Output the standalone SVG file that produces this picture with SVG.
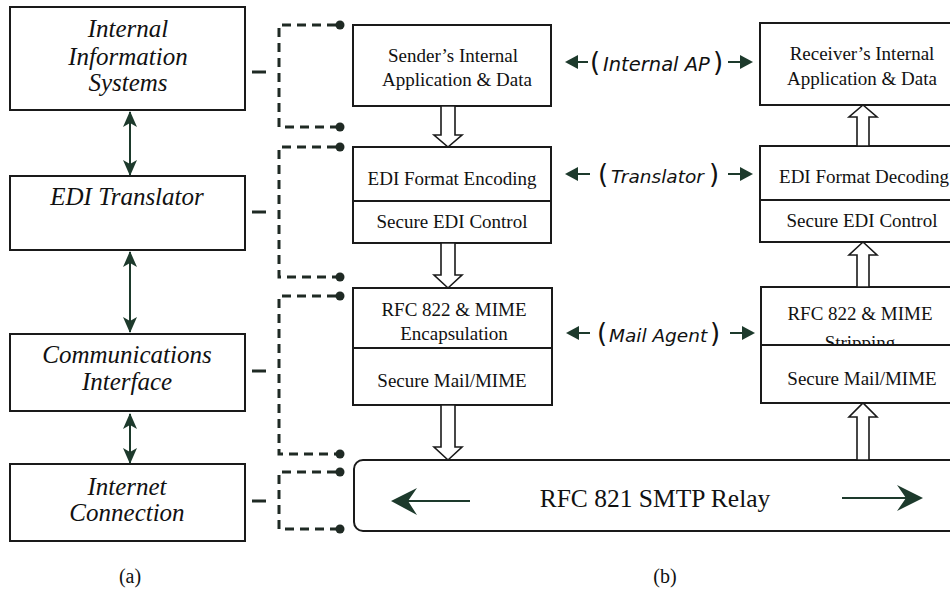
<svg xmlns="http://www.w3.org/2000/svg" width="950" height="591" viewBox="0 0 950 591">
<defs>
<marker id="ah" viewBox="0 0 16 14" refX="15" refY="7" markerWidth="16" markerHeight="14" markerUnits="userSpaceOnUse" orient="auto-start-reverse">
<path d="M0,0 L16,7 L0,14 L4,7 z" fill="#1d3a2c"/>
</marker>
<style>
.box{fill:#fff;stroke:#1a1a1a;stroke-width:2}
.div{stroke:#1a1a1a;stroke-width:2}
.it{font-family:"Liberation Serif","Times New Roman",serif;font-style:italic;font-size:25px;fill:#111;text-anchor:middle}
.rm{font-family:"Liberation Serif","Times New Roman",serif;font-size:19px;fill:#111;text-anchor:middle}
.lab{font-family:"DejaVu Sans",Verdana,sans-serif;font-size:26px;fill:#111}
.lab .i{font-style:italic;font-size:18.5px}
.dash{fill:none;stroke:#1f2a24;stroke-width:3;stroke-dasharray:9 6}
.stub{stroke:#1f2a24;stroke-width:3}
.dot{fill:#1f2a24}
.hol{fill:#fff;stroke:#1a1a1a;stroke-width:1.6}
.dbl{stroke:#1d3a2c;stroke-width:2;marker-start:url(#ah);marker-end:url(#ah)}
.sa{fill:#1d3a2c}
.sl{stroke:#1d3a2c;stroke-width:2}
</style>
</defs>
<rect width="950" height="591" fill="#fff"/>

<!-- (a) column -->
<g id="internal-info-systems">
<rect class="box" x="10" y="7" width="235" height="103"/>
<text class="it" x="128" y="37">Internal</text>
<text class="it" x="128" y="65">Information</text>
<text class="it" x="128" y="91">Systems</text>
</g>
<g id="edi-translator">
<rect class="box" x="10" y="176" width="235" height="74"/>
<text class="it" x="127" y="205">EDI Translator</text>
</g>
<g id="communications-interface">
<rect class="box" x="10" y="334" width="235" height="77"/>
<text class="it" x="127" y="363">Communications</text>
<text class="it" x="127" y="390">Interface</text>
</g>
<g id="internet-connection">
<rect class="box" x="10" y="464" width="235" height="77"/>
<text class="it" x="127" y="495">Internet</text>
<text class="it" x="127" y="521">Connection</text>
</g>
<text class="rm" x="130" y="583" style="font-size:20px">(a)</text>

<!-- (b) sender side -->
<g id="sender-app">
<rect class="box" x="353" y="25" width="198" height="81"/>
<text class="rm" x="453" y="62">Sender’s Internal</text>
<text class="rm" x="457" y="86">Application &amp; Data</text>
</g>
<g id="edi-encoding">
<rect class="box" x="353" y="147" width="198" height="96"/>
<line class="div" x1="353" y1="201" x2="551" y2="201"/>
<text class="rm" x="452" y="185">EDI Format Encoding</text>
<text class="rm" x="452" y="228">Secure EDI Control</text>
</g>
<g id="rfc822-encapsulation">
<rect class="box" x="353" y="288" width="199" height="117"/>
<line class="div" x1="353" y1="348" x2="552" y2="348"/>
<text class="rm" x="454" y="316">RFC 822 &amp; MIME</text>
<text class="rm" x="454" y="340">Encapsulation</text>
<text class="rm" x="452" y="387">Secure Mail/MIME</text>
</g>

<!-- (b) receiver side -->
<g id="receiver-app">
<rect class="box" x="760" y="23" width="200" height="82"/>
<text class="rm" x="862" y="60">Receiver’s Internal</text>
<text class="rm" x="862" y="85">Application &amp; Data</text>
</g>
<g id="edi-decoding">
<rect class="box" x="760" y="146" width="200" height="96"/>
<line class="div" x1="760" y1="200" x2="960" y2="200"/>
<text class="rm" x="864" y="183">EDI Format Decoding</text>
<text class="rm" x="862" y="227">Secure EDI Control</text>
</g>
<g id="rfc822-stripping">
<rect class="box" x="761" y="287" width="200" height="116"/>
<text class="rm" x="860" y="320">RFC 822 &amp; MIME</text>
<text class="rm" x="860" y="349">Stripping</text>
<rect x="762" y="346" width="198" height="56" fill="#fff"/>
<line class="div" x1="761" y1="345" x2="961" y2="345"/>
<text class="rm" x="862" y="385">Secure Mail/MIME</text>
</g>

<g id="smtp-relay">
<rect class="box" x="354" y="460" width="620" height="71" rx="9"/>
<text class="rm" x="655" y="507" style="font-size:25.5px">RFC 821 SMTP Relay</text>
<line class="sl" x1="405" y1="501" x2="470" y2="501"/>
<path class="sa" d="M391,501 L417,488 L408,501 L417,515 z"/>
<line class="sl" x1="842" y1="498" x2="908" y2="498"/>
<path class="sa" d="M923,498 L897,485 L906,498 L897,511 z"/>
</g>

<g id="layer-labels">
<path class="sa" d="M565,62 L578,55 L578,69 z"/><line class="sl" x1="577" y1="62" x2="588" y2="62"/>
<text class="lab" y="71"><tspan x="590">(</tspan><tspan class="i" x="603" style="font-size:19.5px">Internal AP</tspan><tspan x="713">)</tspan></text>
<line class="sl" x1="728" y1="62" x2="741" y2="62"/><path class="sa" d="M753,62 L740,55 L740,69 z"/>

<path class="sa" d="M565,174 L578,167 L578,181 z"/><line class="sl" x1="577" y1="174" x2="590" y2="174"/>
<text class="lab" y="183"><tspan x="598">(</tspan><tspan class="i" x="611">Translator</tspan><tspan x="709">)</tspan></text>
<line class="sl" x1="728" y1="174" x2="741" y2="174"/><path class="sa" d="M753,174 L740,167 L740,181 z"/>

<path class="sa" d="M566,333 L579,326 L579,340 z"/><line class="sl" x1="578" y1="333" x2="590" y2="333"/>
<text class="lab" y="342"><tspan x="597">(</tspan><tspan class="i" x="609">Mail Agent</tspan><tspan x="710">)</tspan></text>
<line class="sl" x1="730" y1="333" x2="742" y2="333"/><path class="sa" d="M755,333 L742,326 L742,340 z"/>
</g>
<text class="rm" x="665" y="583" style="font-size:20px">(b)</text>

<g id="connectors">
<line class="dbl" x1="130" y1="112" x2="130" y2="175"/>
<line class="dbl" x1="130" y1="252" x2="130" y2="332"/>
<line class="dbl" x1="130" y1="414" x2="130" y2="463"/>

<polygon class="hol" points="441,106 455,106 455,135 462,135 448,147 434,135 441,135"/>
<polygon class="hol" points="441,243 455,243 455,275 462,275 448,288 434,275 441,275"/>
<polygon class="hol" points="441,405 455,405 455,447 462,447 448,460 434,447 441,447"/>
<polygon class="hol" points="857,146 869,146 869,117 877,117 863,105 849,117 857,117"/>
<polygon class="hol" points="857,287 869,287 869,255 877,255 863,242 849,255 857,255"/>
<polygon class="hol" points="857,460 869,460 869,417 877,417 863,403 849,417 857,417"/>

<line class="stub" x1="252" y1="72" x2="266" y2="72"/>
<path class="dash" d="M336,25 H279 V127 H336"/>
<line class="stub" x1="252" y1="212" x2="266" y2="212"/>
<path class="dash" d="M336,147 H279 V277 H336"/>
<line class="stub" x1="252" y1="371" x2="266" y2="371"/>
<path class="dash" d="M336,296 H279 V454 H336"/>
<line class="stub" x1="252" y1="501" x2="266" y2="501"/>
<path class="dash" d="M336,472 H279 V529 H336"/>
<circle class="dot" cx="340" cy="25" r="4.5"/>
<circle class="dot" cx="340" cy="127" r="4.5"/>
<circle class="dot" cx="340" cy="147" r="4.5"/>
<circle class="dot" cx="340" cy="277" r="4.5"/>
<circle class="dot" cx="340" cy="296" r="4.5"/>
<circle class="dot" cx="340" cy="454" r="4.5"/>
<circle class="dot" cx="340" cy="472" r="4.5"/>
<circle class="dot" cx="340" cy="529" r="4.5"/>
</g>
</svg>
